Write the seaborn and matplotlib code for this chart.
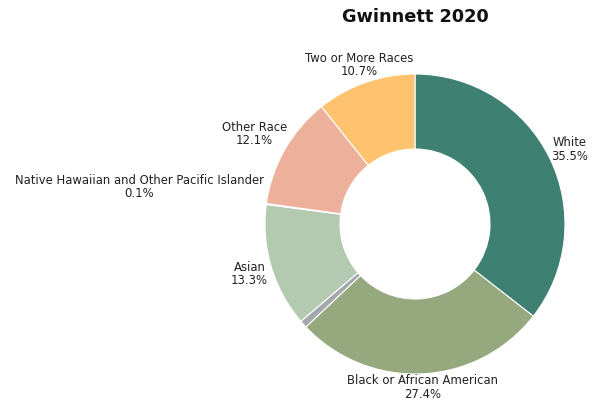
import numpy as np
import matplotlib
matplotlib.use("Agg")
import matplotlib.pyplot as plt
import seaborn as sns

# Gwinnett County population by race, 2020 (percent of total)
categories = [
    "White",
    "Black or African American",
    "American Indian and Alaska Native",
    "Asian",
    "Native Hawaiian and Other Pacific Islander",
    "Other Race",
    "Two or More Races",
]
shares = [35.5, 27.4, 0.8, 13.3, 0.1, 12.1, 10.7]
show_label = [True, True, False, True, True, True, True]
colors = ["#3e8173", "#96a87e", "#a3a8ab", "#b3cab0", "#c9d6c4", "#edb19b", "#ffc36f"]

# radial distance of each label (in pie radii) and manual nudges
label_radius = [1.15, 1.085, 1.15, 1.15, 1.15, 1.23, 1.13]
label_nudge = {4: (-0.70, 0.10)}

sns.set_theme(style="white")
plt.rcParams["font.family"] = ["DejaVu Sans"]

W, H = 592, 402
cx, cy, R = 415, 225, 150  # pie centre and radius in pixels

fig = plt.figure(figsize=(W / 100, H / 100), dpi=100)
ax = fig.add_axes([0, 0, 1, 1])

wedges, _ = ax.pie(
    shares,
    colors=colors,
    startangle=90,
    counterclock=False,
    wedgeprops=dict(width=0.5, edgecolor="white", linewidth=0.8),
)

total = float(sum(shares))
start = 0.0
for i, (name, val) in enumerate(zip(categories, shares)):
    frac_mid = (start + val / 2) / total
    start += val
    if not show_label[i]:
        continue
    theta = 2 * np.pi * frac_mid
    r = label_radius[i]
    x, y = r * np.sin(theta), r * np.cos(theta)
    dx, dy = label_nudge.get(i, (0, 0))
    ax.text(x + dx, y + dy, f"{name}\n{val:.1f}%", ha="center", va="center",
            fontsize=8.4, color="#222222", linespacing=1.05)

ax.set_xlim(-cx / R, (W - cx) / R)
ax.set_ylim(-(H - cy) / R, cy / R)
ax.set_aspect("auto")
ax.axis("off")

fig.text(cx / W, 1 - 17 / H, "Gwinnett 2020", ha="center", va="center",
         fontsize=12.8, fontweight="bold", color="#111111")

fig.savefig("out.png", dpi=100, facecolor="white")
